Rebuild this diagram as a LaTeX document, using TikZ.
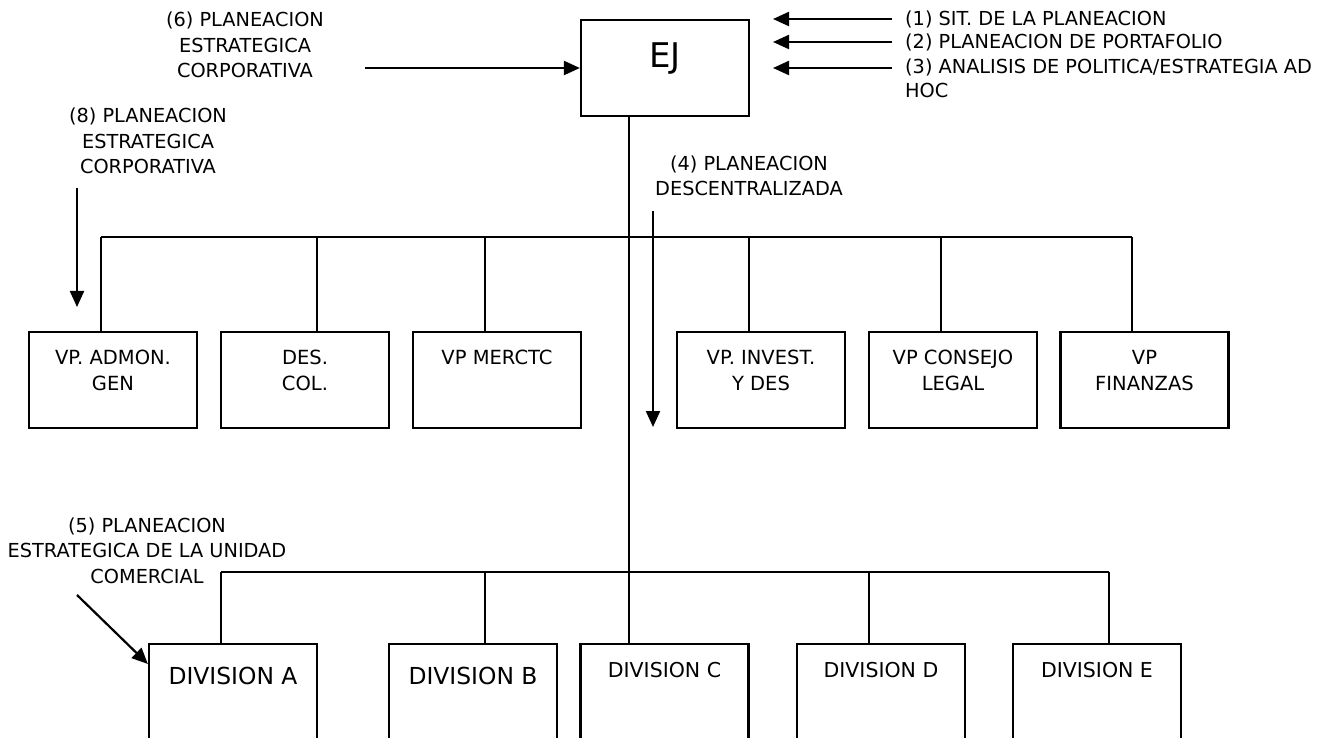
\documentclass[tikz,border=0pt]{standalone}
\usepackage{fontspec}
\setmainfont{DejaVu Sans}
\usepackage{tikz}
\usetikzlibrary{positioning,arrows.meta}

\tikzset{
  conn/.style={line width=2.2pt},
  arr/.style={conn, -{Triangle[length=16pt,width=14pt]}},
  box/.style={draw, line width=2.2pt, minimum width=168pt, inner sep=0pt, align=center},
  vpone/.style={box, font=\fontsize{19.5}{26}\selectfont, text height=32pt, text depth=64pt},
  vpbox/.style={box, font=\fontsize{19.5}{26}\selectfont, text height=58pt, text depth=38pt},
  divbig/.style={box, font=\fontsize{23.4}{26}\selectfont, text height=40.5pt, text depth=59.5pt},
  divsmall/.style={box, font=\fontsize{20.5}{26}\selectfont, text height=33.5pt, text depth=66.5pt},
  lbl/.style={inner sep=2pt, align=center, font=\fontsize{19.3}{25.5}\selectfont},
}

\begin{document}
\begin{tikzpicture}[x=1pt, y=-1pt]
    \useasboundingbox (0,0) rectangle (1334,738);
    \clip (0,0) rectangle (1334,738);

    % Top
    \node[box, font=\fontsize{34}{34}\selectfont, text height=48pt, text depth=48pt] (ej) at (665,68) {EJ};
    \node[lbl, anchor=base] (lab6) at (245,78) {(6) PLANEACION\\ESTRATEGICA\\CORPORATIVA};
    \node[lbl, anchor=base west, align=left, font=\fontsize{19.3}{24}\selectfont] (lab1) at (903,26) {(1) SIT. DE LA PLANEACION};
    \node[lbl, anchor=base west, align=left, font=\fontsize{19.3}{24}\selectfont] (lab2) at (903,49) {(2) PLANEACION DE PORTAFOLIO};
    \node[lbl, anchor=base west, align=left, font=\fontsize{19.3}{24}\selectfont] (lab3) at (903,98) {(3) ANALISIS DE POLITICA/ESTRATEGIA AD\\HOC};
    \node[lbl, anchor=base] (lab8) at (148,174) {(8) PLANEACION\\ESTRATEGICA\\CORPORATIVA};
    \node[lbl, anchor=base] (lab4) at (749,196) {(4) PLANEACION\\DESCENTRALIZADA};
    \node[lbl, anchor=base] (lab5) at (147,583) {(5) PLANEACION\\ESTRATEGICA DE LA UNIDAD\\COMERCIAL};

    \coordinate (s6) at (365,68);
    \draw[arr] (s6) -- (ej.west);
    \draw[arr] ([xshift=-11pt,yshift=7pt]lab1.base west) -- ++(-119,0);
    \draw[arr] ([xshift=-11pt,yshift=7pt]lab2.base west) -- ++(-119,0);
    \draw[arr] ([xshift=-11pt,yshift=30pt]lab3.base west) -- ++(-119,0);

    % VP row
    \node[vpbox] (vpa) at (113,380) {VP. ADMON.\\GEN};
    \node[vpbox] (vpb) at (305,380) {DES.\\COL.};
    \node[vpone] (vpc) at (497,380) {VP MERCTC};
    \node[vpbox] (vpd) at (761,380) {VP. INVEST.\\Y DES};
    \node[vpbox] (vpe) at (953,380) {VP CONSEJO\\LEGAL};
    \node[vpbox] (vpf) at (1144.5,380) {VP\\FINANZAS};

    % Divisions
    \node[divbig] (diva) at (233,694) {DIVISION A};
    \node[divbig] (divb) at (473,694) {DIVISION B};
    \node[divsmall] (divc) at (664.5,694) {DIVISION C};
    \node[divsmall] (divd) at (881,694) {DIVISION D};
    \node[divsmall] (dive) at (1097,694) {DIVISION E};

    % Trunk and bars
    \coordinate (tk) at (629,0);
    \draw[conn] (ej.south -| tk) -- (divc.north -| tk);
    \foreach \bx/\bn in {101/vpa,317/vpb,485/vpc,749/vpd,941/vpe,1132/vpf} {
        \coordinate (vb\bn) at (\bx,237);
        \draw[conn] (vb\bn) -- (vb\bn |- \bn.north);
    }
    \draw[conn] (vbvpa) -- (vbvpf);
    \foreach \bx/\bn in {221/diva,485/divb,869/divd,1109/dive} {
        \coordinate (db\bn) at (\bx,572);
        \draw[conn] (db\bn) -- (db\bn |- \bn.north);
    }
    \draw[conn] (dbdiva) -- (dbdive);

    % Planning arrows
    \coordinate (s8) at (77,188);
    \coordinate (t8) at (77,307);
    \draw[arr] (s8) -- (t8);
    \coordinate (s4) at (653,211);
    \coordinate (t4) at (653,427);
    \draw[arr] (s4) -- (t4);
    \coordinate (s5) at (77,595);
    \draw[arr] (s5) -- (diva.north west |- 0,664);
\end{tikzpicture}
\end{document}
